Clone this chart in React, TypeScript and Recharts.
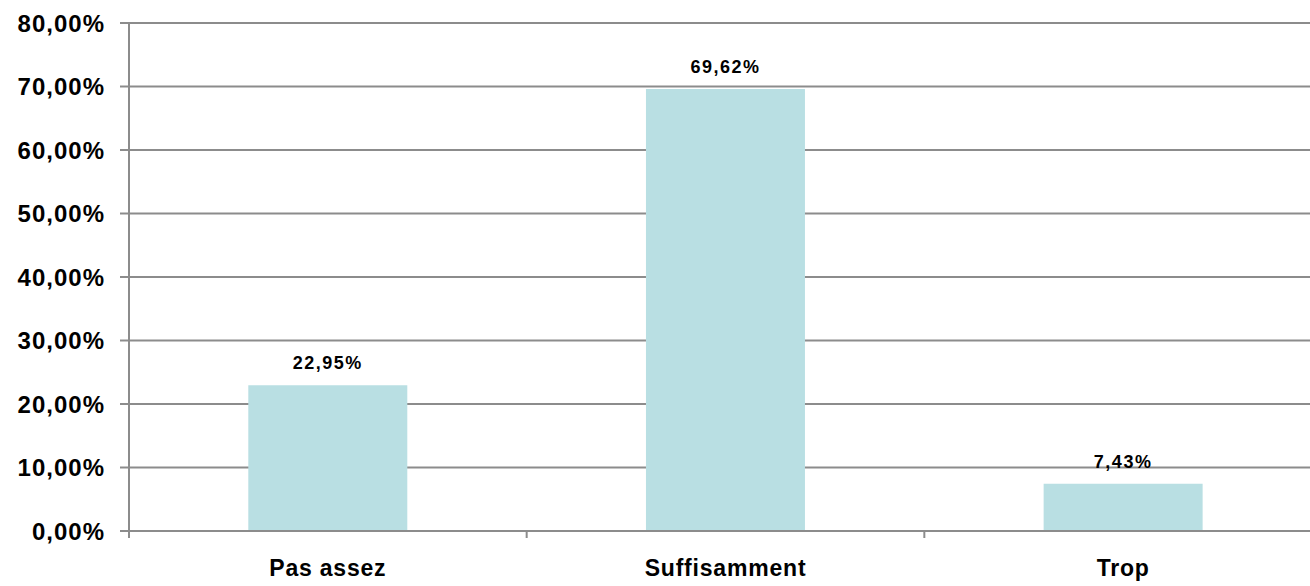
import React from "react";
import { Bar, BarChart, CartesianGrid, LabelList, XAxis, YAxis } from "recharts";

const categories = ["Pas assez", "Suffisamment", "Trop"];
const shares = [22.95, 69.62, 7.43];
const yTicks = [0, 10, 20, 30, 40, 50, 60, 70, 80];

const data = categories.map((name, i) => ({ name, value: shares[i] }));

const pct = (v: number) => v.toFixed(2).replace(".", ",") + "%";

const axisStroke = { stroke: "#8c8c8c", strokeWidth: 2 };
const LABEL_GAP = 29;

// category label + small separator tick on the left edge of each band
const CategoryTick = (props: any) => {
  const { x, y, payload } = props;
  const half = payload?.offset ?? 0;
  const axisY = y - LABEL_GAP;
  return (
    <g>
      <line x1={x - half} x2={x - half} y1={axisY} y2={axisY + 7} stroke="#8c8c8c" strokeWidth={2} />
      <text
        x={x}
        y={y}
        dy="0.71em"
        textAnchor="middle"
        fill="#000"
        fontSize={23}
        fontWeight="bold"
        letterSpacing={0.8}
      >
        {payload.value}
      </text>
    </g>
  );
};

export default function App() {
  return (
    <div style={{ position: "absolute", left: 0, top: 0, background: "#fff" }}>
      <BarChart
        width={1310}
        height={586}
        data={data}
        margin={{ top: 23, right: -12, bottom: 0, left: 0 }}
        barCategoryGap="30%"
        style={{ fontFamily: "'Liberation Sans', Arial, sans-serif", fontWeight: "bold" }}
      >
        <CartesianGrid vertical={false} stroke="#8c8c8c" strokeWidth={2} />
        <XAxis
          dataKey="name"
          height={55}
          axisLine={axisStroke}
          tickLine={false}
          tickSize={0}
          tickMargin={LABEL_GAP}
          tick={CategoryTick}
        />
        <YAxis
          domain={[0, 80]}
          ticks={yTicks}
          interval={0}
          width={129}
          tickFormatter={pct}
          axisLine={axisStroke}
          tickLine={axisStroke}
          tickSize={9}
          tickMargin={15}
          tick={{ fill: "#000", fontSize: 24, fontWeight: "bold", letterSpacing: 1 }}
        />
        <Bar dataKey="value" fill="#b9dfe3" isAnimationActive={false}>
          <LabelList
            dataKey="value"
            position="top"
            offset={16}
            formatter={(v: any) => pct(Number(v))}
            style={{ fill: "#000", fontSize: 18, fontWeight: "bold", letterSpacing: 1.5 }}
          />
        </Bar>
      </BarChart>
    </div>
  );
}
